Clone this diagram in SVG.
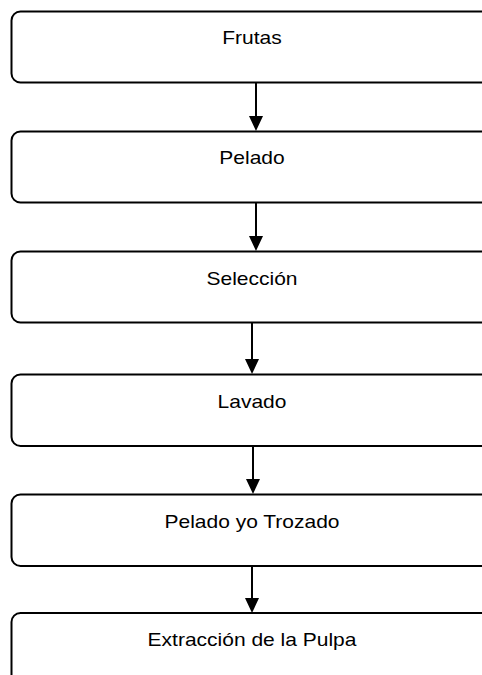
<svg xmlns="http://www.w3.org/2000/svg" width="482" height="675" viewBox="0 0 482 675">
<style>
.box{fill:#fff;stroke:#000;stroke-width:2}
.lbl{font-family:"Liberation Sans",Arial,sans-serif;font-size:17.5px;fill:#000;text-anchor:middle}
.conn{stroke:#000;stroke-width:2;fill:none}
</style>
<rect width="482" height="675" fill="#fff"/>
<g id="connectors">
<line class="conn" x1="256" y1="82.5" x2="256" y2="116" />
<path d="M249,116 L263,116 L256,131 Z" fill="#000"/>
<line class="conn" x1="256" y1="202.5" x2="256" y2="236" />
<path d="M249,236 L263,236 L256,251 Z" fill="#000"/>
<line class="conn" x1="252" y1="322.5" x2="252" y2="359" />
<path d="M245,359 L259,359 L252,374 Z" fill="#000"/>
<line class="conn" x1="253" y1="446" x2="253" y2="479" />
<path d="M246,479 L260,479 L253,494 Z" fill="#000"/>
<line class="conn" x1="252" y1="566" x2="252" y2="598" />
<path d="M245,598 L259,598 L252,613 Z" fill="#000"/>
</g>
<g id="n1"><rect class="box" x="11.5" y="11.5" width="481" height="71" rx="9"/><text class="lbl" transform="translate(252,43.5) scale(1.2,1)">Frutas</text></g>
<g id="n2"><rect class="box" x="11.5" y="131.5" width="481" height="71" rx="9"/><text class="lbl" transform="translate(252,164) scale(1.2,1)">Pelado</text></g>
<g id="n3"><rect class="box" x="11.5" y="251.5" width="481" height="71" rx="9"/><text class="lbl" transform="translate(252,284.5) scale(1.2,1)">Selección</text></g>
<g id="n4"><rect class="box" x="11.5" y="374.5" width="481" height="71.5" rx="9"/><text class="lbl" transform="translate(252,407.5) scale(1.2,1)">Lavado</text></g>
<g id="n5"><rect class="box" x="11.5" y="494.5" width="481" height="71.5" rx="9"/><text class="lbl" transform="translate(252,527.5) scale(1.2,1)">Pelado yo Trozado</text></g>
<g id="n6"><rect class="box" x="11.5" y="613" width="481" height="71.5" rx="9"/><text class="lbl" transform="translate(252,646) scale(1.2,1)">Extracción de la Pulpa</text></g>
</svg>
